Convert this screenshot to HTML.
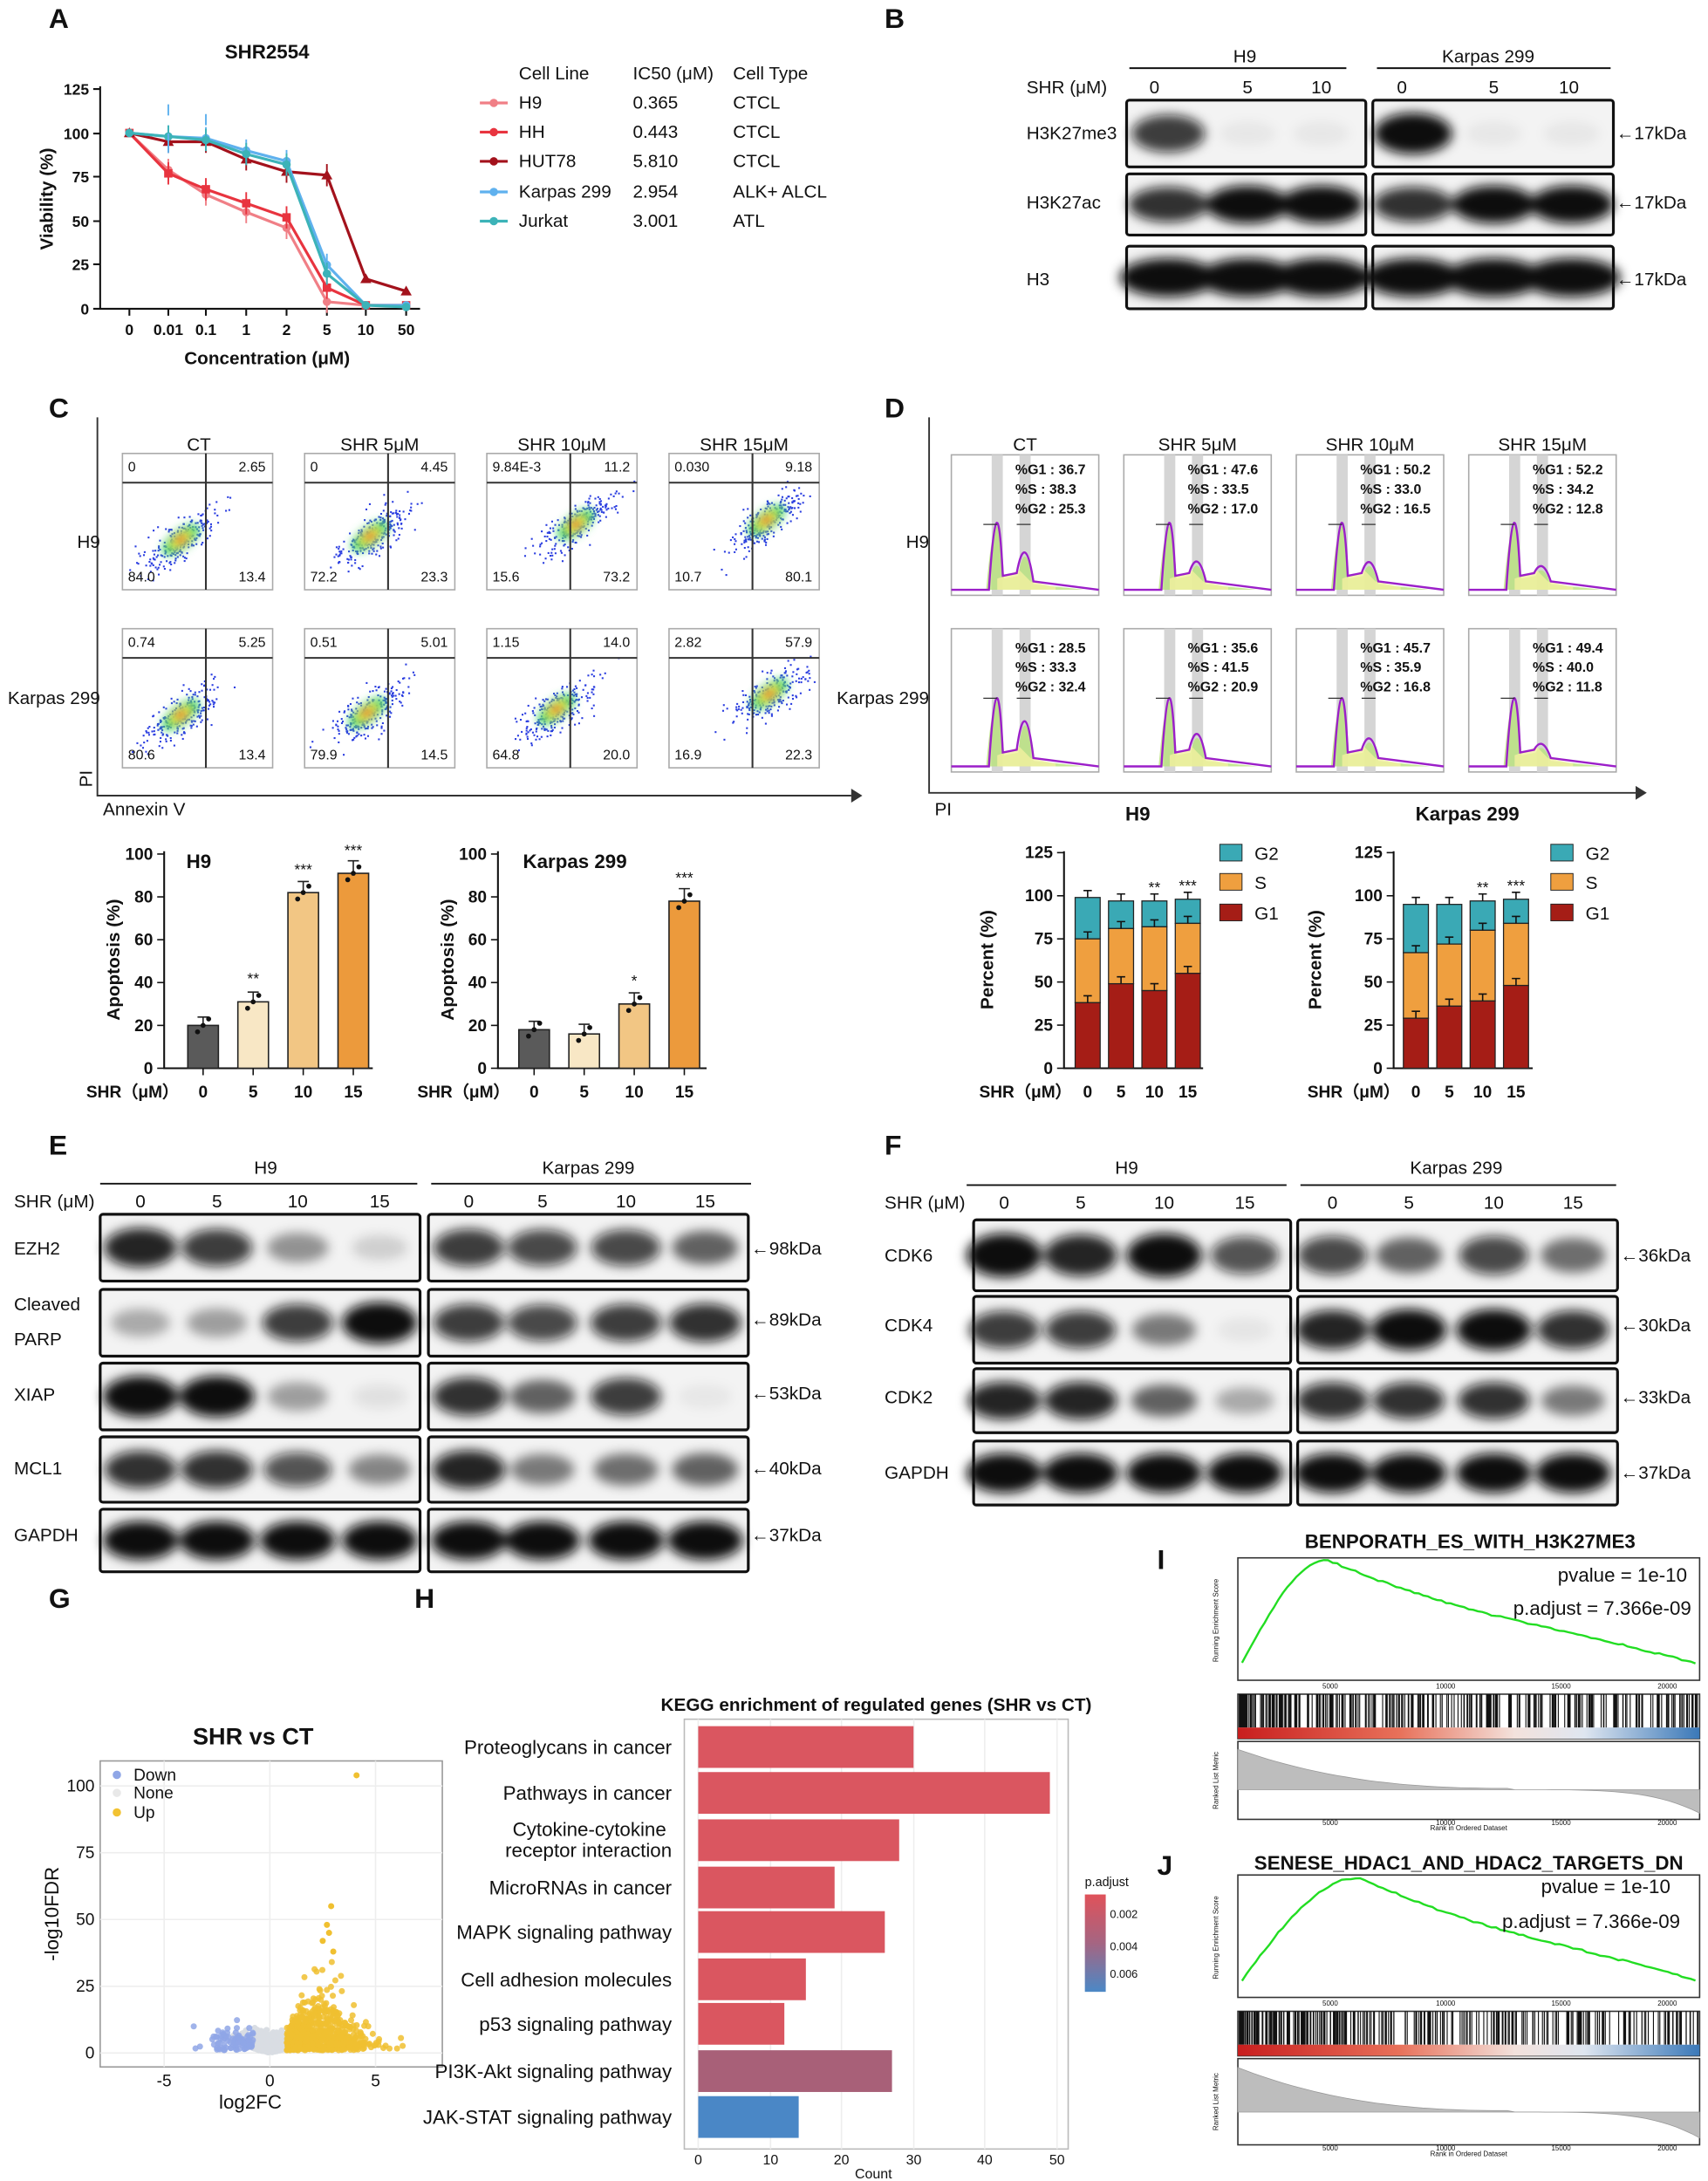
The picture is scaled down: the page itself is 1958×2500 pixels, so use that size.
<!DOCTYPE html>
<html><head><meta charset="utf-8"><style>
html,body{margin:0;padding:0;background:#fff}
svg{display:block}
text{font-family:"Liberation Sans",Arial,sans-serif;fill:#111}
.b{font-weight:bold}
</style></head><body>
<svg id="S" xmlns="http://www.w3.org/2000/svg" width="1958" height="2500" viewBox="0 0 1228 1568">
<defs>
<filter id="bl" x="-30%" y="-80%" width="160%" height="260%"><feGaussianBlur stdDeviation="4"/></filter>
<filter id="bl2" x="-50%" y="-50%" width="200%" height="200%"><feGaussianBlur stdDeviation="3"/></filter>
<linearGradient id="cb" x1="0" y1="0" x2="0" y2="1"><stop offset="0" stop-color="#e0525a"/><stop offset="0.5" stop-color="#a56582"/><stop offset="1" stop-color="#4b88c6"/></linearGradient>
<linearGradient id="strip" x1="0" y1="0" x2="1" y2="0"><stop offset="0" stop-color="#c81e1e"/><stop offset="0.35" stop-color="#e8715a"/><stop offset="0.6" stop-color="#f3e2dc"/><stop offset="0.75" stop-color="#dfe6f0"/><stop offset="1" stop-color="#3a78b8"/></linearGradient>
</defs>
<g id="G"></g>

<g class="b" font-size="20">
<text x="35" y="20" class="b">A</text><text x="636" y="20" class="b">B</text>
<text x="35" y="300" class="b">C</text><text x="636" y="300" class="b">D</text>
<text x="35" y="830" class="b">E</text><text x="636" y="830" class="b">F</text>
<text x="35" y="1156" class="b">G</text><text x="298" y="1156" class="b">H</text>
<text x="832" y="1128" class="b">I</text><text x="832" y="1348" class="b">J</text>
</g>

<text x="192" y="42" font-size="14" class="b" text-anchor="middle">SHR2554</text>
<g stroke="#111" stroke-width="1.3" fill="none">
<path d="M72,62 V222 H302"/>
<path d="M67,64H72M67,96H72M67,127H72M67,159H72M67,190H72M67,222H72"/>
<path d="M93,222v5M121,222v5M148,222v5M177,222v5M206,222v5M235,222v5M263,222v5M292,222v5"/>
</g>
<g font-size="11" text-anchor="end" class="b">
<text x="64" y="68">125</text><text x="64" y="100">100</text><text x="64" y="131">75</text><text x="64" y="163">50</text><text x="64" y="194">25</text><text x="64" y="226">0</text>
</g>
<g font-size="11" text-anchor="middle" class="b">
<text x="93" y="241">0</text><text x="121" y="241">0.01</text><text x="148" y="241">0.1</text><text x="177" y="241">1</text><text x="206" y="241">2</text><text x="235" y="241">5</text><text x="263" y="241">10</text><text x="292" y="241">50</text>
</g>
<text x="192" y="262" font-size="13" class="b" text-anchor="middle">Concentration (μM)</text>
<text transform="translate(38,143) rotate(-90)" font-size="13" class="b" text-anchor="middle">Viability (%)</text>
<g id="Aser"></g>
<g font-size="13">
<text x="373" y="57">Cell Line</text><text x="455" y="57">IC50 (μM)</text><text x="527" y="57">Cell Type</text>
<text x="373" y="78">H9</text><text x="455" y="78">0.365</text><text x="527" y="78">CTCL</text>
<text x="373" y="99">HH</text><text x="455" y="99">0.443</text><text x="527" y="99">CTCL</text>
<text x="373" y="120">HUT78</text><text x="455" y="120">5.810</text><text x="527" y="120">CTCL</text>
<text x="373" y="142">Karpas 299</text><text x="455" y="142">2.954</text><text x="527" y="142">ALK+ ALCL</text>
<text x="373" y="163">Jurkat</text><text x="455" y="163">3.001</text><text x="527" y="163">ATL</text>
</g>

<g font-size="13">
<text x="895" y="45" text-anchor="middle">H9</text><text x="1070" y="45" text-anchor="middle">Karpas 299</text>
<text x="738" y="67">SHR (μM)</text>
<text x="830" y="67" text-anchor="middle">0</text><text x="897" y="67" text-anchor="middle">5</text><text x="950" y="67" text-anchor="middle">10</text>
<text x="1008" y="67" text-anchor="middle">0</text><text x="1074" y="67" text-anchor="middle">5</text><text x="1128" y="67" text-anchor="middle">10</text>
<text x="738" y="100">H3K27me3</text><text x="738" y="150">H3K27ac</text><text x="738" y="205">H3</text>
<text x="1162" y="100">←17kDa</text><text x="1162" y="150">←17kDa</text><text x="1162" y="205">←17kDa</text>
</g>
<path d="M812,49H968M990,49H1158" stroke="#111" stroke-width="1.2"/>

<path d="M70,300V572H612" stroke="#333" stroke-width="1.2" fill="none"/><path d="M612,567l8,5l-8,5z" fill="#333"/>
<text transform="translate(66,566) rotate(-90)" font-size="13">PI</text>
<text x="74" y="586" font-size="13">Annexin V</text>
<g font-size="13" text-anchor="middle">
<text x="143" y="324">CT</text><text x="273" y="324">SHR 5μM</text><text x="404" y="324">SHR 10μM</text><text x="535" y="324">SHR 15μM</text>
</g>
<text x="72" y="394" font-size="13" text-anchor="end">H9</text>
<text x="72" y="506" font-size="13" text-anchor="end">Karpas 299</text>
<g id="Cflow"></g>

<g id="Cbars"></g>
<text x="134" y="624" font-size="14" class="b">H9</text>
<text x="376" y="624" font-size="14" class="b">Karpas 299</text>
<text transform="translate(86,690) rotate(-90)" font-size="13" class="b" text-anchor="middle">Apoptosis (%)</text>
<text transform="translate(326,690) rotate(-90)" font-size="13" class="b" text-anchor="middle">Apoptosis (%)</text>
<text x="62" y="789" font-size="12" class="b">SHR（μM）</text>
<text x="300" y="789" font-size="12" class="b">SHR（μM）</text>

<path d="M668,300V570H1176" stroke="#333" stroke-width="1.2" fill="none"/><path d="M1176,565l8,5l-8,5z" fill="#333"/>
<text x="672" y="586" font-size="13">PI</text>
<text x="818" y="590" font-size="14" class="b" text-anchor="middle">H9</text>
<text x="1055" y="590" font-size="14" class="b" text-anchor="middle">Karpas 299</text>
<g font-size="13" text-anchor="middle">
<text x="737" y="324">CT</text><text x="861" y="324">SHR 5μM</text><text x="985" y="324">SHR 10μM</text><text x="1109" y="324">SHR 15μM</text>
</g>
<text x="668" y="394" font-size="13" text-anchor="end">H9</text>
<text x="668" y="506" font-size="13" text-anchor="end">Karpas 299</text>
<g id="Dhist"></g>
<g id="Dbars"></g>
<text transform="translate(714,690) rotate(-90)" font-size="13" class="b" text-anchor="middle">Percent (%)</text>
<text transform="translate(950,690) rotate(-90)" font-size="13" class="b" text-anchor="middle">Percent (%)</text>
<text x="704" y="789" font-size="12" class="b">SHR（μM）</text>
<text x="940" y="789" font-size="12" class="b">SHR（μM）</text>

<g font-size="13">
<text x="191" y="844" text-anchor="middle">H9</text><text x="423" y="844" text-anchor="middle">Karpas 299</text>
<text x="10" y="868">SHR (μM)</text>
<text x="101" y="868" text-anchor="middle">0</text><text x="156" y="868" text-anchor="middle">5</text><text x="214" y="868" text-anchor="middle">10</text><text x="273" y="868" text-anchor="middle">15</text>
<text x="337" y="868" text-anchor="middle">0</text><text x="390" y="868" text-anchor="middle">5</text><text x="450" y="868" text-anchor="middle">10</text><text x="507" y="868" text-anchor="middle">15</text>
<text x="10" y="902">EZH2</text><text x="10" y="942">Cleaved</text><text x="10" y="967">PARP</text><text x="10" y="1007">XIAP</text><text x="10" y="1060">MCL1</text><text x="10" y="1108">GAPDH</text>
<text x="540" y="902">←98kDa</text><text x="540" y="953">←89kDa</text><text x="540" y="1006">←53kDa</text><text x="540" y="1060">←40kDa</text><text x="540" y="1108">←37kDa</text>
</g>
<path d="M72,851H300M310,851H540" stroke="#111" stroke-width="1.2"/>

<g font-size="13">
<text x="810" y="844" text-anchor="middle">H9</text><text x="1047" y="844" text-anchor="middle">Karpas 299</text>
<text x="636" y="869">SHR (μM)</text>
<text x="722" y="869" text-anchor="middle">0</text><text x="777" y="869" text-anchor="middle">5</text><text x="837" y="869" text-anchor="middle">10</text><text x="895" y="869" text-anchor="middle">15</text>
<text x="958" y="869" text-anchor="middle">0</text><text x="1013" y="869" text-anchor="middle">5</text><text x="1074" y="869" text-anchor="middle">10</text><text x="1131" y="869" text-anchor="middle">15</text>
<text x="636" y="907">CDK6</text><text x="636" y="957">CDK4</text><text x="636" y="1009">CDK2</text><text x="636" y="1063">GAPDH</text>
<text x="1165" y="907">←36kDa</text><text x="1165" y="957">←30kDa</text><text x="1165" y="1009">←33kDa</text><text x="1165" y="1063">←37kDa</text>
</g>
<path d="M695,852H925M935,852H1162" stroke="#111" stroke-width="1.2"/>

<text x="182" y="1254" font-size="17" class="b" text-anchor="middle">SHR vs CT</text>
<rect x="72" y="1266" width="246" height="220" fill="#fff" stroke="#999"/>
<g stroke="#eee"><path d="M72,1284H318M72,1332H318M72,1380H318M72,1428H318M72,1476H318M118,1266V1486M194,1266V1486M270,1266V1486"/></g>
<g id="Gdots"></g>
<g font-size="12" fill="#444" text-anchor="end">
<text x="68" y="1288">100</text><text x="68" y="1336">75</text><text x="68" y="1384">50</text><text x="68" y="1432">25</text><text x="68" y="1480">0</text>
</g>
<g font-size="12" text-anchor="middle"><text x="118" y="1500">-5</text><text x="194" y="1500">0</text><text x="270" y="1500">5</text></g>
<text x="180" y="1516" font-size="14" text-anchor="middle">log2FC</text>
<text transform="translate(42,1376) rotate(-90)" font-size="14" text-anchor="middle">-log10FDR</text>
<circle cx="84" cy="1276" r="3" fill="#8fa6e6"/><text x="96" y="1280" font-size="12">Down</text>
<circle cx="84" cy="1289" r="3" fill="#e8e8e8"/><text x="96" y="1293" font-size="12">None</text>
<circle cx="84" cy="1303" r="3" fill="#f2c232"/><text x="96" y="1307" font-size="12">Up</text>

<text x="630" y="1230" font-size="13" class="b" text-anchor="middle">KEGG enrichment of regulated genes (SHR vs CT)</text>
<rect x="492" y="1236" width="276" height="309" fill="#fff" stroke="#bbb"/>
<g stroke="#eee"><path d="M502,1236V1545M554,1236V1545M605,1236V1545M657,1236V1545M708,1236V1545M760,1236V1545"/></g>
<g id="Hbars"></g>
<g font-size="10" text-anchor="middle" fill="#444">
<text x="502" y="1556">0</text><text x="554" y="1556">10</text><text x="605" y="1556">20</text><text x="657" y="1556">30</text><text x="708" y="1556">40</text><text x="760" y="1556">50</text>
</g>
<text x="628" y="1566" font-size="10" text-anchor="middle">Count</text>
<g font-size="14" text-anchor="end">
<text x="483" y="1261">Proteoglycans in cancer</text>
<text x="483" y="1294">Pathways in cancer</text>
<text x="479" y="1320">Cytokine-cytokine</text><text x="483" y="1335">receptor interaction</text>
<text x="483" y="1362">MicroRNAs in cancer</text>
<text x="483" y="1394">MAPK signaling pathway</text>
<text x="483" y="1428">Cell adhesion molecules</text>
<text x="483" y="1460">p53 signaling pathway</text>
<text x="483" y="1494">PI3K-Akt signaling pathway</text>
<text x="483" y="1527">JAK-STAT signaling pathway</text>
</g>
<text x="780" y="1356" font-size="9">p.adjust</text>
<rect x="780" y="1362" width="15" height="70" fill="url(#cb)"/>
<g font-size="8"><text x="798" y="1379">0.002</text><text x="798" y="1402">0.004</text><text x="798" y="1422">0.006</text></g>

<text x="1057" y="1113" font-size="14" class="b" text-anchor="middle">BENPORATH_ES_WITH_H3K27ME3</text>
<text x="1056" y="1344" font-size="14" class="b" text-anchor="middle">SENESE_HDAC1_AND_HDAC2_TARGETS_DN</text>
<g id="GSEA"></g>
<g font-size="14">
<text x="1120" y="1137">pvalue = 1e-10</text><text x="1088" y="1161">p.adjust = 7.366e-09</text>
<text x="1108" y="1361">pvalue = 1e-10</text><text x="1080" y="1386">p.adjust = 7.366e-09</text>
</g>
</svg>
<script>
(function(){
var NS="http://www.w3.org/2000/svg";
var seed=12345;function R(){seed=(seed*16807)%2147483647;return (seed-1)/2147483646;}
function N(){var u=R()||1e-9,v=R();return Math.sqrt(-2*Math.log(u))*Math.cos(2*Math.PI*v);}
function el(p,tag,a,txt){var e=document.createElementNS(NS,tag);for(var k in a)e.setAttribute(k,a[k]);if(txt!=null)e.textContent=txt;p.appendChild(e);return e;}
function $(id){return document.getElementById(id);}

var A=$("Aser");var xs=[93,121,148,177,206,235,263,292];
var ser=[["#f07f86",[100,79,65,55,46,4,2,2],"c"],["#e8343f",[100,77,68,60,52,12,2,2],"s"],["#a3121c",[100,95,95,85,78,76,17,10],"t"],["#5fb1ee",[100,98,97,90,84,25,2,2],"c"],["#3cb3b8",[100,98,96,88,82,20,2,1],"c"]];
ser.forEach(function(s,i){var d="";s[1].forEach(function(v,j){var y=222-v*1.264;d+=(j?"L":"M")+xs[j]+","+y;
 if(j<6&&j>0){el(A,"path",{d:"M"+xs[j]+","+(y-8)+"v16",stroke:s[0],"stroke-width":1.2});}});
 el(A,"path",{d:d,stroke:s[0],"stroke-width":2,fill:"none"});
 s[1].forEach(function(v,j){var y=222-v*1.264;if(s[2]=="s")el(A,"rect",{x:xs[j]-3,y:y-3,width:6,height:6,fill:s[0]});else if(s[2]=="t")el(A,"path",{d:"M"+xs[j]+","+(y-4)+"l4,7h-8z",fill:s[0]});else el(A,"circle",{cx:xs[j],cy:y,r:3,fill:s[0]});});
 var ly=[74,95,116,138,159][i];el(A,"path",{d:"M345,"+ly+"H365",stroke:s[0],"stroke-width":2});el(A,"circle",{cx:355,cy:ly,r:3,fill:s[0]});
});
el(A,"path",{d:"M121,83v-8M121,110v-14M148,90v-8",stroke:"#5fb1ee","stroke-width":1.2});

var G=$("G");
function box(x,y,w,h){el(G,"rect",{x:x,y:y,width:w,height:h,fill:"#f3f3f3",stroke:"#111","stroke-width":2,rx:2});}
function bands(lanes,y,h,ints,bw){var g=el(G,"g",{filter:"url(#bl)"});lanes.forEach(function(x,i){var v=ints[i];if(v<=0)return;el(g,"ellipse",{cx:x,cy:y+h/2,rx:bw/2*(0.7+0.3*v),ry:h*0.28*(0.6+0.5*v),fill:"rgba(10,10,10,"+Math.min(1,v)+")"});});}
function blotRow(boxes,lanes,y,h,ints,bw){boxes.forEach(function(b){box(b[0],y,b[1]-b[0],h);});bands(lanes,y,h,ints,bw);}
var Bb=[[810,982],[987,1160]],Bl=[840,897,950,1016,1074,1130];
blotRow(Bb,Bl,72,48,[0.8,0.05,0.05,1,0.05,0.05],56);
blotRow(Bb,Bl,125,44,[0.85,1,1,0.85,1,1],60);
blotRow(Bb,Bl,177,45,[1,1,1,1,1,1],70);
var Eb=[[72,302],[308,538]],El=[101,156,214,273,337,390,450,507];
var Er=[[873,48,[0.9,0.8,0.4,0.15,0.8,0.75,0.75,0.6]],[927,48,[0.3,0.35,0.8,1,0.8,0.75,0.8,0.85]],[980,48,[1,1,0.35,0.08,0.85,0.6,0.8,0.05]],[1033,47,[0.85,0.85,0.7,0.45,0.9,0.5,0.55,0.6]],[1085,45,[1,1,1,1,1,1,1,1]]];
Er.forEach(function(r){blotRow(Eb,El,r[0],r[1],r[2],54);});
var Fb=[[700,928],[933,1163]],Fl=[722,777,837,895,958,1013,1074,1131];
var Fr=[[877,51,[1,0.9,1,0.7,0.75,0.6,0.75,0.55]],[932,48,[0.8,0.8,0.5,0.06,0.9,1,1,0.85]],[984,46,[0.9,0.9,0.6,0.3,0.85,0.85,0.85,0.5]],[1036,46,[1,1,1,1,1,1,1,1]]];
Fr.forEach(function(r){blotRow(Fb,Fl,r[0],r[1],r[2],54);});

var C=$("Cflow");var cols=[88,219,350,481];var rows=[326,452];
var q=[[["0","2.65","84.0","13.4"],["0","4.45","72.2","23.3"],["9.84E-3","11.2","15.6","73.2"],["0.030","9.18","10.7","80.1"]],
[["0.74","5.25","80.6","13.4"],["0.51","5.01","79.9","14.5"],["1.15","14.0","64.8","20.0"],["2.82","57.9","16.9","22.3"]]];
var sh=[[0,5,22,28],[0,3,8,30]];
rows.forEach(function(ry,ri){cols.forEach(function(cx,ci){var w=108,h=ri?100:98;
 el(C,"rect",{x:cx,y:ry,width:w,height:h,fill:"#fff",stroke:"#aaa"});
 var vx=cx+60,hy=ry+21;
 var s=sh[ri][ci],mx=cx+42+s,my=ry+62-s*0.5;
 var g=el(C,"g",{});
 for(var k=0;k<260;k++){var t=N()*13,u=N()*5;var px=mx+t+u*0.6,py=my-t*0.75+u;if(px<cx+2||px>cx+w-2||py<ry+2||py>ry+h-2)continue;el(g,"rect",{x:px,y:py,width:1.3,height:1.3,fill:"#2a3de0"});}
 var g2=el(C,"g",{filter:"url(#bl2)"});
 el(g2,"ellipse",{cx:mx,cy:my,rx:16,ry:7,fill:"#3fd36a",transform:"rotate(-37 "+mx+" "+my+")"});
 el(g2,"ellipse",{cx:mx,cy:my,rx:9,ry:4,fill:"#f2e83a",transform:"rotate(-37 "+mx+" "+my+")"});
 el(g2,"ellipse",{cx:mx,cy:my,rx:4,ry:2.5,fill:"#e83a2a"});
 el(C,"path",{d:"M"+vx+","+ry+"V"+(ry+h)+"M"+cx+","+hy+"H"+(cx+w),stroke:"#333","stroke-width":1.3});
 var Q=q[ri][ci];
 el(C,"text",{x:cx+4,y:ry+13,"font-size":10},Q[0]);el(C,"text",{x:cx+w-5,y:ry+13,"font-size":10,"text-anchor":"end"},Q[1]);
 el(C,"text",{x:cx+4,y:ry+h-6,"font-size":10},Q[2]);el(C,"text",{x:cx+w-5,y:ry+h-6,"font-size":10,"text-anchor":"end"},Q[3]);
});});

var CB=$("Cbars");
function barChart(ax,cx,vals,stars){var sc=1.54,y0=768;
 el(CB,"path",{d:"M"+ax+",612V768H"+(ax+150)+"",stroke:"#111","stroke-width":1.3,fill:"none"});
 [0,20,40,60,80,100].forEach(function(v){var y=y0-v*sc;el(CB,"path",{d:"M"+(ax-5)+","+y+"H"+ax,stroke:"#111"});el(CB,"text",{x:ax-8,y:y+4,"font-size":12,"text-anchor":"end","class":"b"},v);});
 var col=["#5a5a5a","#f8e7c5","#f2c684","#ec9a3c"],lab=["0","5","10","15"];
 vals.forEach(function(v,i){var x=cx[i];el(CB,"rect",{x:x-11,y:y0-v*sc,width:22,height:v*sc,fill:col[i],stroke:"#222"});
 el(CB,"path",{d:"M"+x+","+(y0-v*sc)+"v-"+(6+i)+"M"+(x-4)+","+(y0-v*sc-6-i)+"h8",stroke:"#222"});
 for(var k=0;k<3;k++)el(CB,"circle",{cx:x-4+k*4,cy:y0-(v+(k-1)*3)*sc,r:1.8,fill:"#111"});
 el(CB,"path",{d:"M"+x+","+y0+"v5",stroke:"#111"});el(CB,"text",{x:x,y:789,"font-size":12,"text-anchor":"middle","class":"b"},lab[i]);
 if(stars[i])el(CB,"text",{x:x,y:y0-v*sc-13,"font-size":11,"text-anchor":"middle"},stars[i]);});}
barChart(118,[146,182,218,254],[20,31,82,91],["","**","***","***"]);
barChart(358,[384,420,456,492],[18,16,30,78],["","","*","***"]);

var D=$("Dhist");var dc=[684,808,932,1056],dr=[327,452];
var st=[[[36.7,38.3,25.3],[47.6,33.5,17.0],[50.2,33.0,16.5],[52.2,34.2,12.8]],[[28.5,33.3,32.4],[35.6,41.5,20.9],[45.7,35.9,16.8],[49.4,40.0,11.8]]];
dr.forEach(function(ry,ri){dc.forEach(function(cx,ci){var w=106,h=ri?103:101,b=ry+h-4;
 el(D,"rect",{x:cx,y:ry,width:w,height:h,fill:"#fff",stroke:"#aaa"});
 el(D,"rect",{x:cx+29,y:ry,width:8,height:h,fill:"#d5d5d5"});el(D,"rect",{x:cx+49,y:ry,width:8,height:h,fill:"#d5d5d5"});
 var p=st[ri][ci],g1=cx+33,g2=cx+53,hg2=p[2]*1.6;
 el(D,"path",{d:"M"+(cx+25)+","+b+"Q"+g1+","+(ry+10)+" "+(g1+5)+","+(b-8)+"L"+(g2-5)+","+(b-10)+"Q"+g2+","+(b-hg2)+" "+(g2+6)+","+(b-4)+"L"+(cx+w-10)+","+b+"Z",fill:"#b8e27a",opacity:0.8});
 el(D,"path",{d:"M"+(cx+33)+","+(b-8)+"L"+(g2-4)+","+(b-14)+"L"+(g2+4)+","+(b-6)+"L"+(cx+75)+","+(b-2)+"V"+b+"H"+(cx+33)+"Z",fill:"#f2f0a0",opacity:0.8});
 el(D,"path",{d:"M"+cx+","+b+"H"+(cx+27)+"Q"+g1+","+(ry+6)+" "+(g1+4)+","+(b-10)+"L"+(g2-6)+","+(b-12)+"Q"+g2+","+(b-hg2-4)+" "+(g2+6)+","+(b-6)+"L"+(cx+w)+","+b,stroke:"#9b1fc9","stroke-width":1.5,fill:"none"});
 el(D,"path",{d:"M"+(g1-10)+","+(ry+50)+"h10M"+(g2-6)+","+(ry+50)+"h10",stroke:"#333","stroke-width":0.8});
 ["%G1 : ","%S : ","%G2 : "].forEach(function(l,k){el(D,"text",{x:cx+46,y:ry+(ri?17:14)+k*14,"font-size":10,"font-family":"Liberation Serif,serif","font-weight":"bold"},l+p[k].toFixed(1));});
});});

var DB=$("Dbars");
function stack(ax,cx,g1,s,g2,lx){var sc=1.24,y0=768;
 el(DB,"path",{d:"M"+ax+",612V768H"+(ax+100),stroke:"#111","stroke-width":1.3,fill:"none"});
 [0,25,50,75,100,125].forEach(function(v){var y=y0-v*sc;el(DB,"path",{d:"M"+(ax-5)+","+y+"H"+ax,stroke:"#111"});el(DB,"text",{x:ax-8,y:y+4,"font-size":12,"text-anchor":"end","class":"b"},v);});
 ["0","5","10","15"].forEach(function(l,i){var x=cx[i];
 el(DB,"rect",{x:x-9,y:y0-g2[i]*sc,width:18,height:(g2[i]-s[i])*sc,fill:"#3aa9b5",stroke:"#222","stroke-width":0.8});
 el(DB,"rect",{x:x-9,y:y0-s[i]*sc,width:18,height:(s[i]-g1[i])*sc,fill:"#ef9f3f",stroke:"#222","stroke-width":0.8});
 el(DB,"rect",{x:x-9,y:y0-g1[i]*sc,width:18,height:g1[i]*sc,fill:"#a51d16",stroke:"#222","stroke-width":0.8});
 [g1[i],s[i],g2[i]].forEach(function(v){el(DB,"path",{d:"M"+x+","+(y0-v*sc)+"v-5M"+(x-3)+","+(y0-v*sc-5)+"h6",stroke:"#111"});});
 el(DB,"text",{x:x,y:789,"font-size":12,"text-anchor":"middle","class":"b"},l);
 if(i>=2)el(DB,"text",{x:x,y:y0-g2[i]*sc-6,"font-size":11,"text-anchor":"middle"},i==2?"**":"***");});
 [["#3aa9b5","G2",613],["#ef9f3f","S",634],["#a51d16","G1",656]].forEach(function(L){el(DB,"rect",{x:lx,y:L[2]-6,width:16,height:12,fill:L[0],stroke:"#222","stroke-width":0.6});el(DB,"text",{x:lx+25,y:L[2]+5,"font-size":13},L[1]);});}
stack(765,[782,806,830,854],[38,49,45,55],[75,81,82,84],[99,97,97,98],877);
stack(1002,[1018,1042,1066,1090],[29,36,39,48],[67,72,80,84],[95,95,97,98],1115);

var V=$("Gdots");
function vp(x,y){return [194+x*15.2,1476-y*1.92];}
for(var k=0;k<450;k++){var x=N()*0.7,y=Math.abs(N())*3+Math.abs(x)*2;var p=vp(x,y);el(V,"circle",{cx:p[0],cy:p[1],r:2.2,fill:"#d9dde3"});}
for(var k=0;k<90;k++){var x=-0.8-Math.abs(N())*1.0,y=Math.abs(N())*4+1;var p=vp(x,y);el(V,"circle",{cx:p[0],cy:p[1],r:2.2,fill:"#8fa6e6",opacity:0.85});}
for(var k=0;k<650;k++){var x=0.8+Math.abs(N())*1.8;var y=Math.abs(N())*10*Math.exp(-Math.abs(x-2.5)*0.45)+1;if(R()<0.12)y+=R()*25*Math.exp(-Math.abs(x-2.6));var p=vp(x,y);el(V,"circle",{cx:p[0],cy:p[1],r:2.2,fill:"#f0c030",opacity:0.85});}
[[2.9,55],[2.7,48],[2.5,42],[3.0,38],[4.1,104],[2.8,45]].forEach(function(a){var p=vp(a[0],a[1]);el(V,"circle",{cx:p[0],cy:p[1],r:2.2,fill:"#f0c030"});});

var H=$("Hbars");var hy=[1241,1274,1308,1342,1374,1408,1440,1474,1507],hc=[30,49,28,19,26,15,12,27,14];
hy.forEach(function(y,i){var c=i<7?"#da5660":(i==7?"#a86078":"#4a87c6");el(H,"rect",{x:502,y:y,width:hc[i]*5.16,height:30,fill:c});});

var GS=$("GSEA");
function gsea(top,pk){var x0=890,x1=1222,h1=88;
 el(GS,"rect",{x:x0,y:top,width:x1-x0,height:h1,fill:"#fff",stroke:"#333"});
 var d="";for(var i=0;i<=100;i++){var t=i/100,x=x0+3+t*(x1-x0-6);var es;if(t<pk)es=0.57*Math.sin(t/pk*Math.PI/2)+ (R()-0.5)*0.01;else es=0.57*(1-(t-pk)/(1-pk))*(1-0.15*Math.sin((t-pk)/(1-pk)*Math.PI))+(R()-0.5)*0.01;
 var y=top+h1-12-es*130;d+=(i?"L":"M")+x.toFixed(1)+","+y.toFixed(1);}
 el(GS,"path",{d:d,stroke:"#22dd22","stroke-width":1.5,fill:"none"});
 el(GS,"text",{transform:"translate("+(x0-14)+","+(top+45)+") rotate(-90)","font-size":5,"text-anchor":"middle"},"Running Enrichment Score");
 [["5000",0.2],["10000",0.45],["15000",0.7],["20000",0.93]].forEach(function(a){el(GS,"text",{x:x0+a[1]*(x1-x0),y:top+h1+6,"font-size":5,"text-anchor":"middle"},a[0]);});
 var by=top+h1+10,bh=24;el(GS,"rect",{x:x0,y:by,width:x1-x0,height:bh+8,fill:"#fff",stroke:"#333"});
 var bd="";for(var k=0;k<330;k++){var t=Math.pow(R(),1.6);var x=x0+1+t*(x1-x0-2);bd+="M"+x.toFixed(1)+","+by+"v"+bh;}
 el(GS,"path",{d:bd,stroke:"#111","stroke-width":0.7});
 el(GS,"rect",{x:x0,y:by+bh,width:x1-x0,height:8,fill:"url(#strip)"});
 var ry=by+bh+10,rh=top==1120?56:62;el(GS,"rect",{x:x0,y:ry,width:x1-x0,height:rh,fill:"#fff",stroke:"#333"});
 var z=ry+rh*0.62,dd="M"+x0+","+z;for(var i=0;i<=60;i++){var t=i/60,x=x0+t*(x1-x0);var v=t<0.6?Math.pow(1-t/0.6,2.5)*rh*0.5+1:-Math.pow((t-0.6)/0.4,4)*rh*0.3;dd+="L"+x.toFixed(1)+","+(z-v).toFixed(1);}dd+="L"+x1+","+z+"Z";
 el(GS,"path",{d:dd,fill:"#bdbdbd",stroke:"#999","stroke-width":0.5});
 el(GS,"text",{transform:"translate("+(x0-14)+","+(ry+rh/2)+") rotate(-90)","font-size":5,"text-anchor":"middle"},"Ranked List Metric");
 el(GS,"text",{x:(x0+x1)/2,y:ry+rh+8,"font-size":5,"text-anchor":"middle"},"Rank in Ordered Dataset");
 [["5000",0.2],["10000",0.45],["15000",0.7],["20000",0.93]].forEach(function(a){el(GS,"text",{x:x0+a[1]*(x1-x0),y:ry+rh+4,"font-size":5,"text-anchor":"middle"},a[0]);});}
gsea(1120,0.19);gsea(1348,0.26);
})();
</script>
</body></html>
